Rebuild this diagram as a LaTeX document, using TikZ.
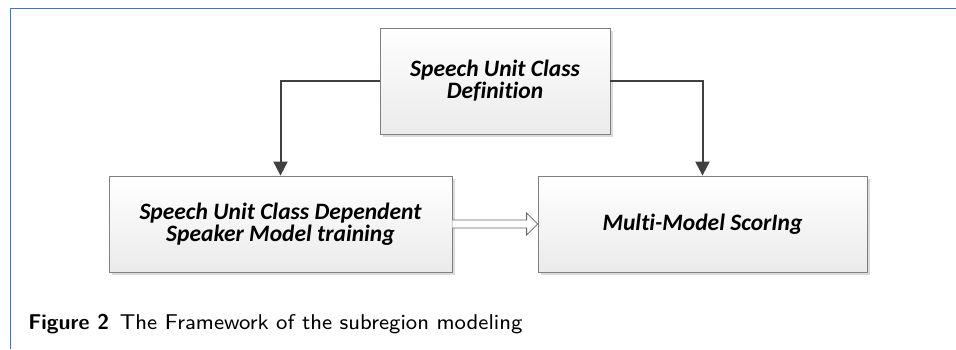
\documentclass[tikz,border=0pt]{standalone}
\usepackage{fontspec}
\newfontfamily\boxfont{Carlito}[Ligatures=NoCommon]
\newfontfamily\capfont{lmsans8-regular.otf}[BoldFont=lmsans10-bold.otf]
\usepackage{tikz}
\usetikzlibrary{arrows.meta,shadows,calc}

\begin{document}
\begin{tikzpicture}[x=1pt, y=-1pt, thick,
  block/.style = {draw=black!50, line width=0.8pt, top color=white, bottom color=black!8,
    drop shadow={shadow xshift=3pt, shadow yshift=-3pt, fill=black!14, opacity=1},
    align=center, font=\boxfont\fontsize{23.5}{22}\selectfont\bfseries\itshape},
  flow/.style = {draw=black!75, line width=2pt, -{Triangle[length=14pt,width=14pt]}},
  hollow/.style = {draw=black!60, line width=0.8pt, fill=white}]
\useasboundingbox (0,0) rectangle (956,349);
\draw[color={rgb,255:red,84;green,114;blue,160}, line width=0.8pt] (956,8) -- (10,8) -- (10,349);
\node[block, minimum width=230pt, minimum height=106pt] (def) at (495,81) {Speech Unit Class\\Definition};
\node[block, minimum width=343pt, minimum height=96pt] (train) at (280.5,224) {Speech Unit Class Dependent\\Speaker Model training};
\node[block, minimum width=329pt, minimum height=96pt] (score) at (702.5,224) {Multi-Model ScorIng};
\draw[flow] (def.west) -| (train.north);
\draw[flow] (def.east) -| (score.north);
\draw[hollow] ($(train.east)+(0,4)$) -- ($(score.west)+(-11,4)$) -- ($(score.west)+(-11,11)$)
  -- (score.west) -- ($(score.west)+(-11,-11)$) -- ($(score.west)+(-11,-4)$) -- ($(train.east)+(0,-4)$);
\node[anchor=base west, inner sep=0pt, font=\capfont\fontsize{21.4}{25}\selectfont] (cap) at (28,329)
  {\textbf{Figure 2}\enspace The Framework of the subregion modeling};
\end{tikzpicture}
\end{document}
